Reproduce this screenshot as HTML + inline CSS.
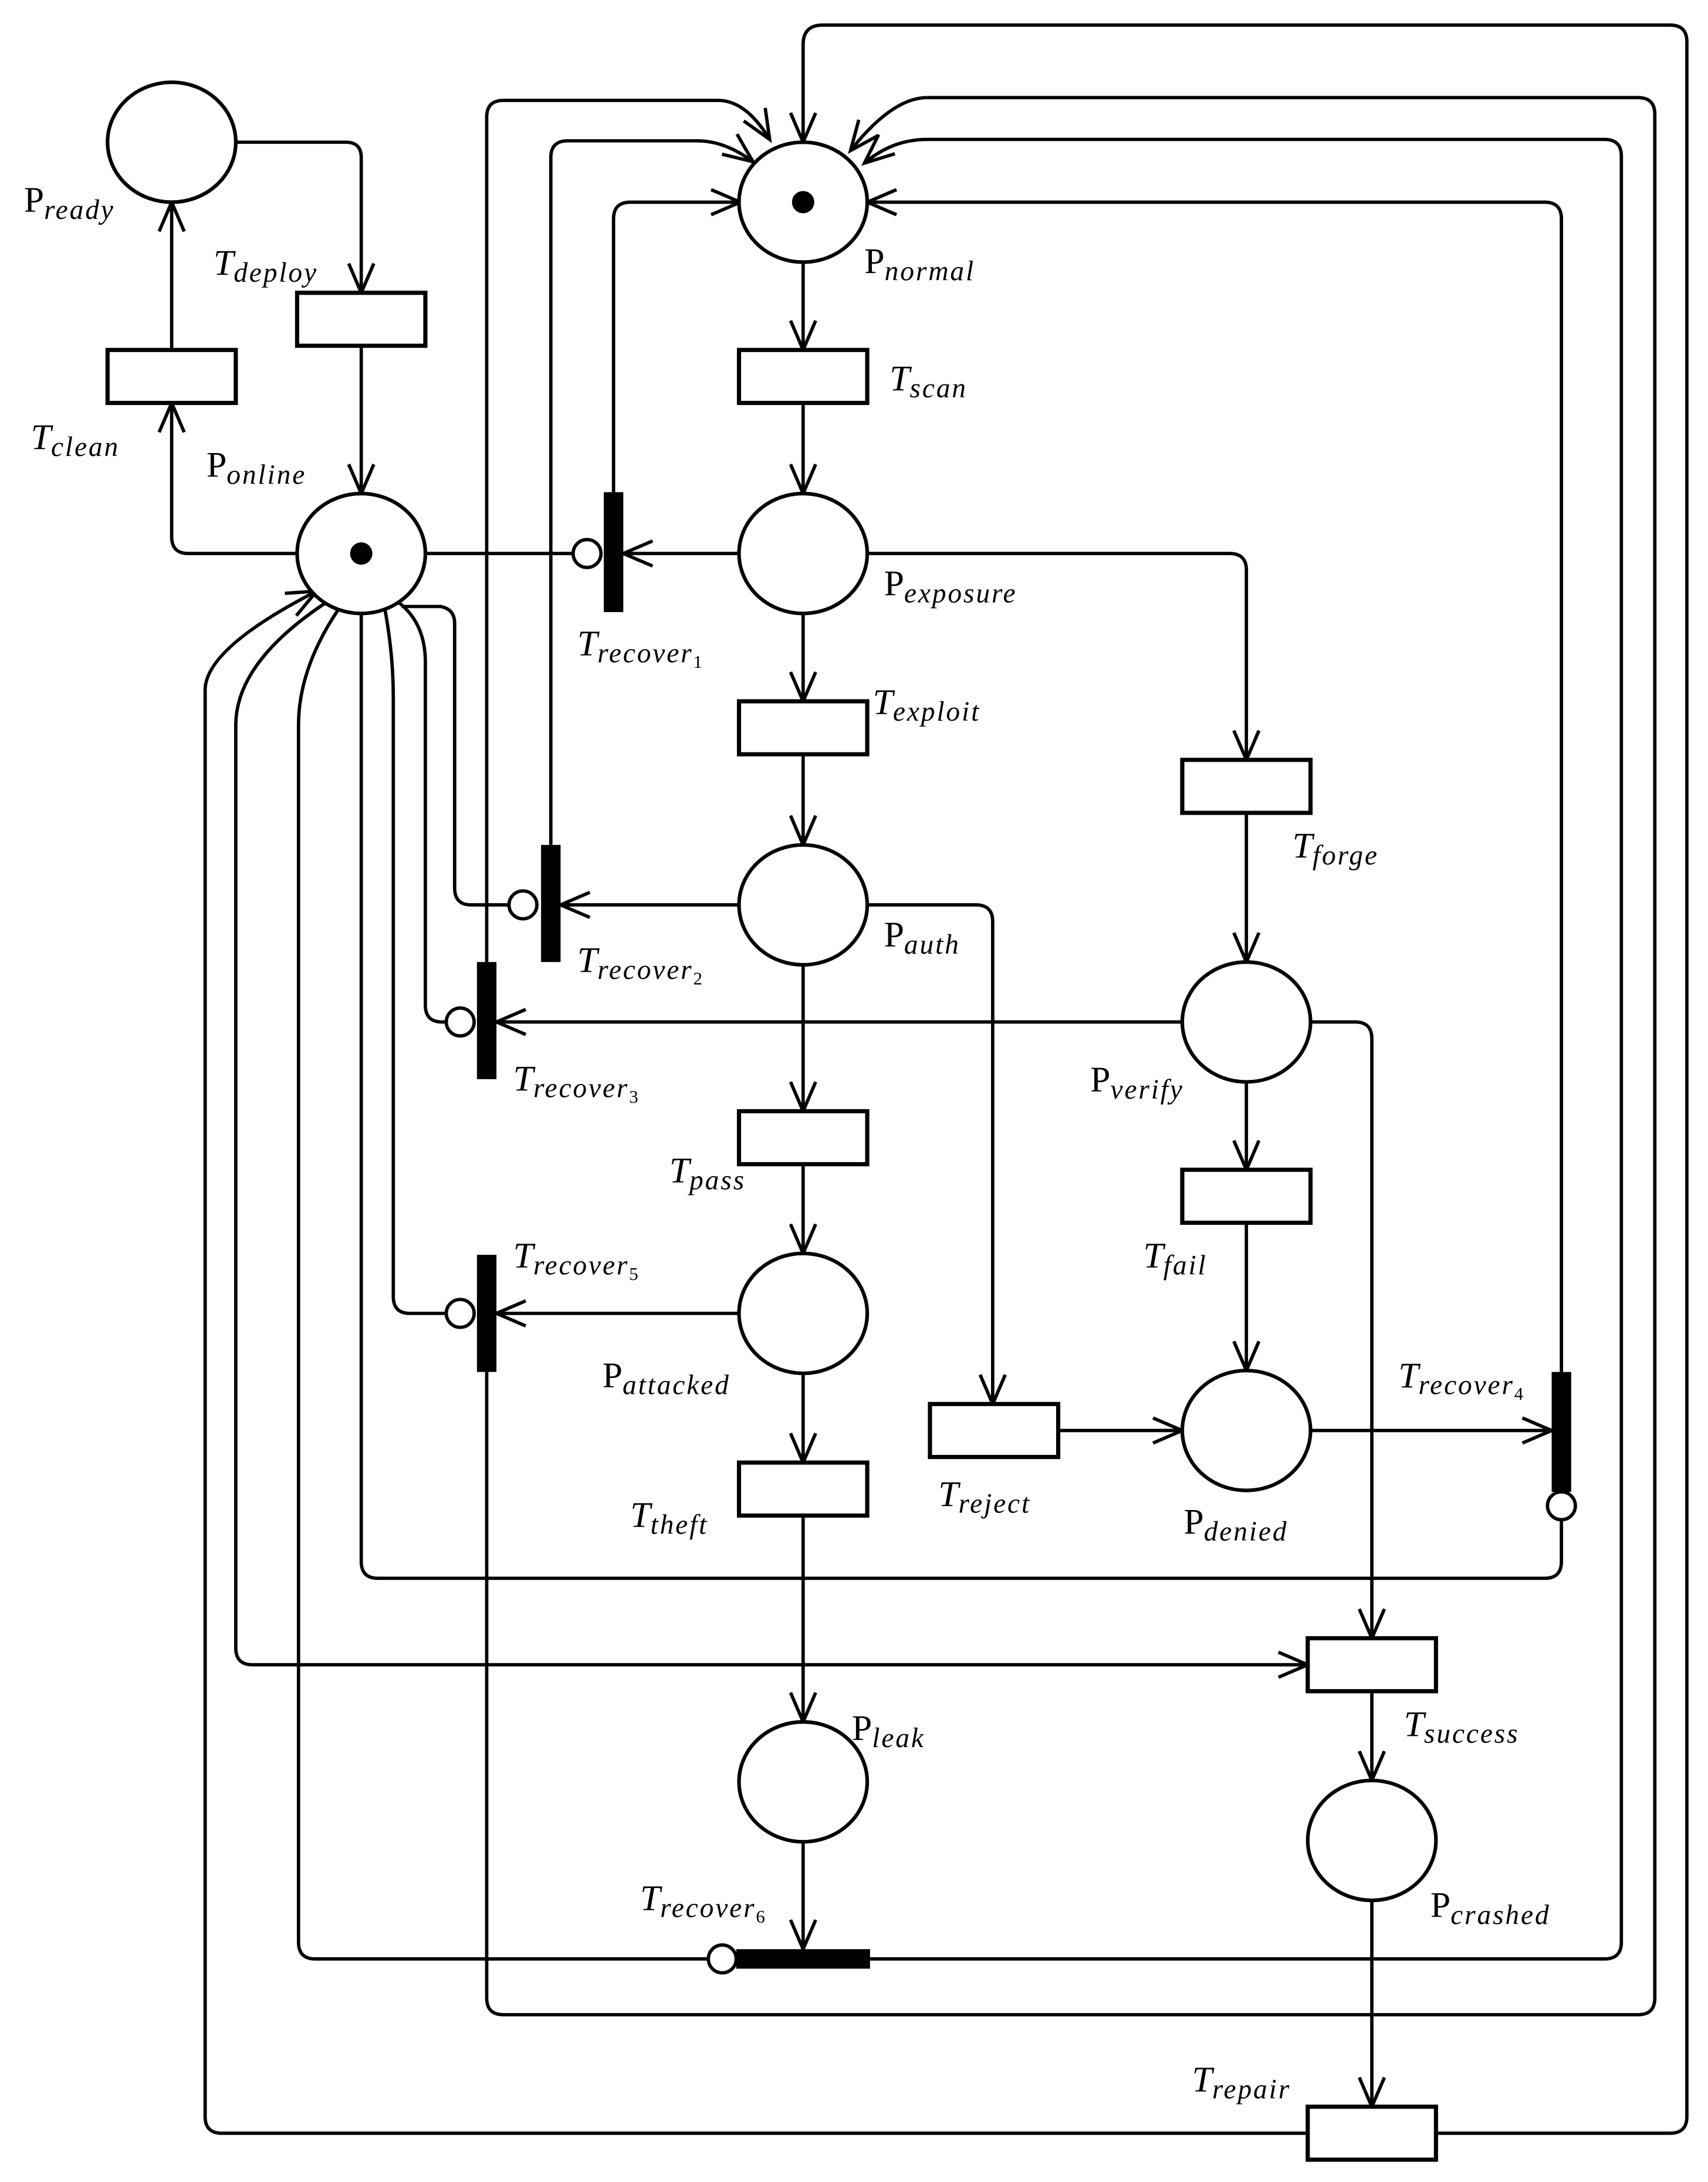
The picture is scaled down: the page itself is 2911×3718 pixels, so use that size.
<!DOCTYPE html>
<html><head><meta charset="utf-8"><style>
html,body{margin:0;padding:0;background:#fff;}
svg{display:block;}
text{font-family:"Liberation Serif",serif;font-size:26px;fill:#000;}
.s{font-size:20px;font-style:italic;letter-spacing:1.2px;}
.i{font-style:italic;}
</style></head><body>
<svg width="2911" height="3718" viewBox="0 0 1225 1565" xmlns="http://www.w3.org/2000/svg">
<defs>
<marker id="a" markerUnits="userSpaceOnUse" markerWidth="26" markerHeight="26" refX="22" refY="10" orient="auto" viewBox="0 0 26 20">
<path d="M1,1 L22,10 L1,19" fill="none" stroke="#000" stroke-width="2.4"/>
</marker>
</defs>
<g fill="none" stroke="#000" stroke-width="2.4">
<path d="M169,102 H248 Q259,102 259,113 V210" marker-end="url(#a)"/>
<path d="M259,248 V354" marker-end="url(#a)"/>
<path d="M213,397 H135 Q123,397 123,385 V289" marker-end="url(#a)"/>
<path d="M123,251 V145" marker-end="url(#a)"/>
<path d="M576,188 V251" marker-end="url(#a)"/>
<path d="M576,289 V354" marker-end="url(#a)"/>
<path d="M576,440 V503" marker-end="url(#a)"/>
<path d="M576,541 V606" marker-end="url(#a)"/>
<path d="M576,692 V797" marker-end="url(#a)"/>
<path d="M576,835 V899" marker-end="url(#a)"/>
<path d="M576,985 V1049" marker-end="url(#a)"/>
<path d="M576,1087 V1235" marker-end="url(#a)"/>
<path d="M576,1321 V1398" marker-end="url(#a)"/>
<path d="M622,397 H882 Q894,397 894,409 V545" marker-end="url(#a)"/>
<path d="M894,583 V690" marker-end="url(#a)"/>
<path d="M894,776 V839" marker-end="url(#a)"/>
<path d="M894,877 V983" marker-end="url(#a)"/>
<path d="M622,649 H700 Q712,649 712,661 V1007" marker-end="url(#a)"/>
<path d="M759,1026 H848" marker-end="url(#a)"/>
<path d="M940,1026 H1113" marker-end="url(#a)"/>
<path d="M940,733 H972 Q984,733 984,745 V1175" marker-end="url(#a)"/>
<path d="M984,1213 V1277" marker-end="url(#a)"/>
<path d="M984,1363 V1511" marker-end="url(#a)"/>
<path d="M305,397 H411"/>
<path d="M530,397 H447" marker-end="url(#a)"/>
<path d="M530,649 H402" marker-end="url(#a)"/>
<path d="M848,733 H356" marker-end="url(#a)"/>
<path d="M530,942 H356" marker-end="url(#a)"/>
<path d="M288,435 H316 Q326,437 326,447 V637 Q326,649 338,649 H365"/>
<path d="M283,430 Q305,445 305,475 V721 Q305,733 317,733 H320"/>
<path d="M276,437 Q282,470 282,500 V930 Q282,942 294,942 H320"/>
<path d="M259,440 V1120 Q259,1132 271,1132 H1108 Q1120,1132 1120,1120 V1090"/>
<path d="M242,438 Q214,480 214,520 V1393 Q214,1405 226,1405 H508"/>
<path d="M234,432 Q169,475 169,520 V1182 Q169,1194 181,1194 H938" marker-end="url(#a)"/>
<path d="M938,1530 H159 Q147,1530 147,1518 V495 Q147,465 227,424" marker-end="url(#a)"/>
<path d="M440,353 V157 Q440,145 452,145 H531" marker-end="url(#a)"/>
<path d="M395,606 V113 Q395,101 407,101 H500 Q520,101 540,116" marker-end="url(#a)"/>
<path d="M349,690 V84 Q349,72 361,72 H515 Q535,72 552,100" marker-end="url(#a)"/>
<path d="M349,984 V1433 Q349,1445 361,1445 H1175 Q1187,1445 1187,1433 V82 Q1187,70 1175,70 H665 Q640,70 610,108" marker-end="url(#a)"/>
<path d="M624,1405 H1151 Q1163,1405 1163,1393 V112 Q1163,100 1151,100 H665 Q640,100 620,117" marker-end="url(#a)"/>
<path d="M1120,984 V157 Q1120,145 1108,145 H622" marker-end="url(#a)"/>
<path d="M1030,1530 H1198 Q1210,1530 1210,1518 V30 Q1210,18 1198,18 H590 Q576,18 576,32 V102" marker-end="url(#a)"/>
</g>
<g fill="#fff" stroke="#000" stroke-width="2.6">
<ellipse cx="123" cy="102" rx="46" ry="43"/>
<ellipse cx="576" cy="145" rx="46" ry="43"/>
<ellipse cx="259" cy="397" rx="46" ry="43"/>
<ellipse cx="576" cy="397" rx="46" ry="43"/>
<ellipse cx="576" cy="649" rx="46" ry="43"/>
<ellipse cx="894" cy="733" rx="46" ry="43"/>
<ellipse cx="576" cy="942" rx="46" ry="43"/>
<ellipse cx="894" cy="1026" rx="46" ry="43"/>
<ellipse cx="576" cy="1278" rx="46" ry="43"/>
<ellipse cx="984" cy="1320" rx="46" ry="43"/>
</g>
<circle cx="576" cy="145" r="8" fill="#000"/>
<circle cx="259" cy="397" r="8" fill="#000"/>
<g fill="#fff" stroke="#000" stroke-width="3">
<rect x="213" y="210" width="92" height="38"/>
<rect x="77" y="251" width="92" height="38"/>
<rect x="530" y="251" width="92" height="38"/>
<rect x="530" y="503" width="92" height="38"/>
<rect x="848" y="545" width="92" height="38"/>
<rect x="530" y="797" width="92" height="38"/>
<rect x="848" y="839" width="92" height="38"/>
<rect x="667" y="1007" width="92" height="38"/>
<rect x="530" y="1049" width="92" height="38"/>
<rect x="938" y="1175" width="92" height="38"/>
<rect x="938" y="1511" width="92" height="38"/>
</g>
<g fill="#000">
<rect x="433" y="353" width="14" height="86"/>
<rect x="388" y="606" width="14" height="84"/>
<rect x="342" y="690" width="14" height="84"/>
<rect x="342" y="900" width="14" height="84"/>
<rect x="1113" y="984" width="14" height="86"/>
<rect x="528" y="1398" width="96" height="14"/>
</g>
<g fill="#fff" stroke="#000" stroke-width="2.4">
<circle cx="421" cy="397" r="10"/>
<circle cx="375" cy="649" r="10"/>
<circle cx="330" cy="733" r="10"/>
<circle cx="330" cy="942" r="10"/>
<circle cx="1120" cy="1080" r="10"/>
<circle cx="518" cy="1405" r="10"/>
</g>
<text x="17" y="152">P<tspan class="s" dy="5">ready</tspan></text>
<text x="153" y="197" class="i">T<tspan class="s" dy="5">deploy</tspan></text>
<text x="22" y="322" class="i">T<tspan class="s" dy="5">clean</tspan></text>
<text x="148" y="342">P<tspan class="s" dy="5">online</tspan></text>
<text x="620" y="196">P<tspan class="s" dy="5">normal</tspan></text>
<text x="638" y="280" class="i">T<tspan class="s" dy="5">scan</tspan></text>
<text x="634" y="427">P<tspan class="s" dy="5">exposure</tspan></text>
<text x="414" y="470" class="i">T<tspan class="s" dy="5">recover</tspan><tspan style="font-size:13px;font-style:normal" dy="4">1</tspan></text>
<text x="626" y="512" class="i">T<tspan class="s" dy="5">exploit</tspan></text>
<text x="927" y="615" class="i">T<tspan class="s" dy="5">forge</tspan></text>
<text x="634" y="679">P<tspan class="s" dy="5">auth</tspan></text>
<text x="414" y="697" class="i">T<tspan class="s" dy="5">recover</tspan><tspan style="font-size:13px;font-style:normal" dy="4">2</tspan></text>
<text x="782" y="783">P<tspan class="s" dy="5">verify</tspan></text>
<text x="368" y="782" class="i">T<tspan class="s" dy="5">recover</tspan><tspan style="font-size:13px;font-style:normal" dy="4">3</tspan></text>
<text x="480" y="848" class="i">T<tspan class="s" dy="5">pass</tspan></text>
<text x="820" y="909" class="i">T<tspan class="s" dy="5">fail</tspan></text>
<text x="368" y="909" class="i">T<tspan class="s" dy="5">recover</tspan><tspan style="font-size:13px;font-style:normal" dy="4">5</tspan></text>
<text x="432" y="995">P<tspan class="s" dy="5">attacked</tspan></text>
<text x="1003" y="995" class="i">T<tspan class="s" dy="5">recover</tspan><tspan style="font-size:13px;font-style:normal" dy="4">4</tspan></text>
<text x="673" y="1080" class="i">T<tspan class="s" dy="5">reject</tspan></text>
<text x="452" y="1095" class="i">T<tspan class="s" dy="5">theft</tspan></text>
<text x="849" y="1100">P<tspan class="s" dy="5">denied</tspan></text>
<text x="1007" y="1245" class="i">T<tspan class="s" dy="5">success</tspan></text>
<text x="611" y="1248">P<tspan class="s" dy="5">leak</tspan></text>
<text x="459" y="1370" class="i">T<tspan class="s" dy="5">recover</tspan><tspan style="font-size:13px;font-style:normal" dy="4">6</tspan></text>
<text x="1026" y="1375">P<tspan class="s" dy="5">crashed</tspan></text>
<text x="855" y="1500" class="i">T<tspan class="s" dy="5">repair</tspan></text>
</svg>
</body></html>
